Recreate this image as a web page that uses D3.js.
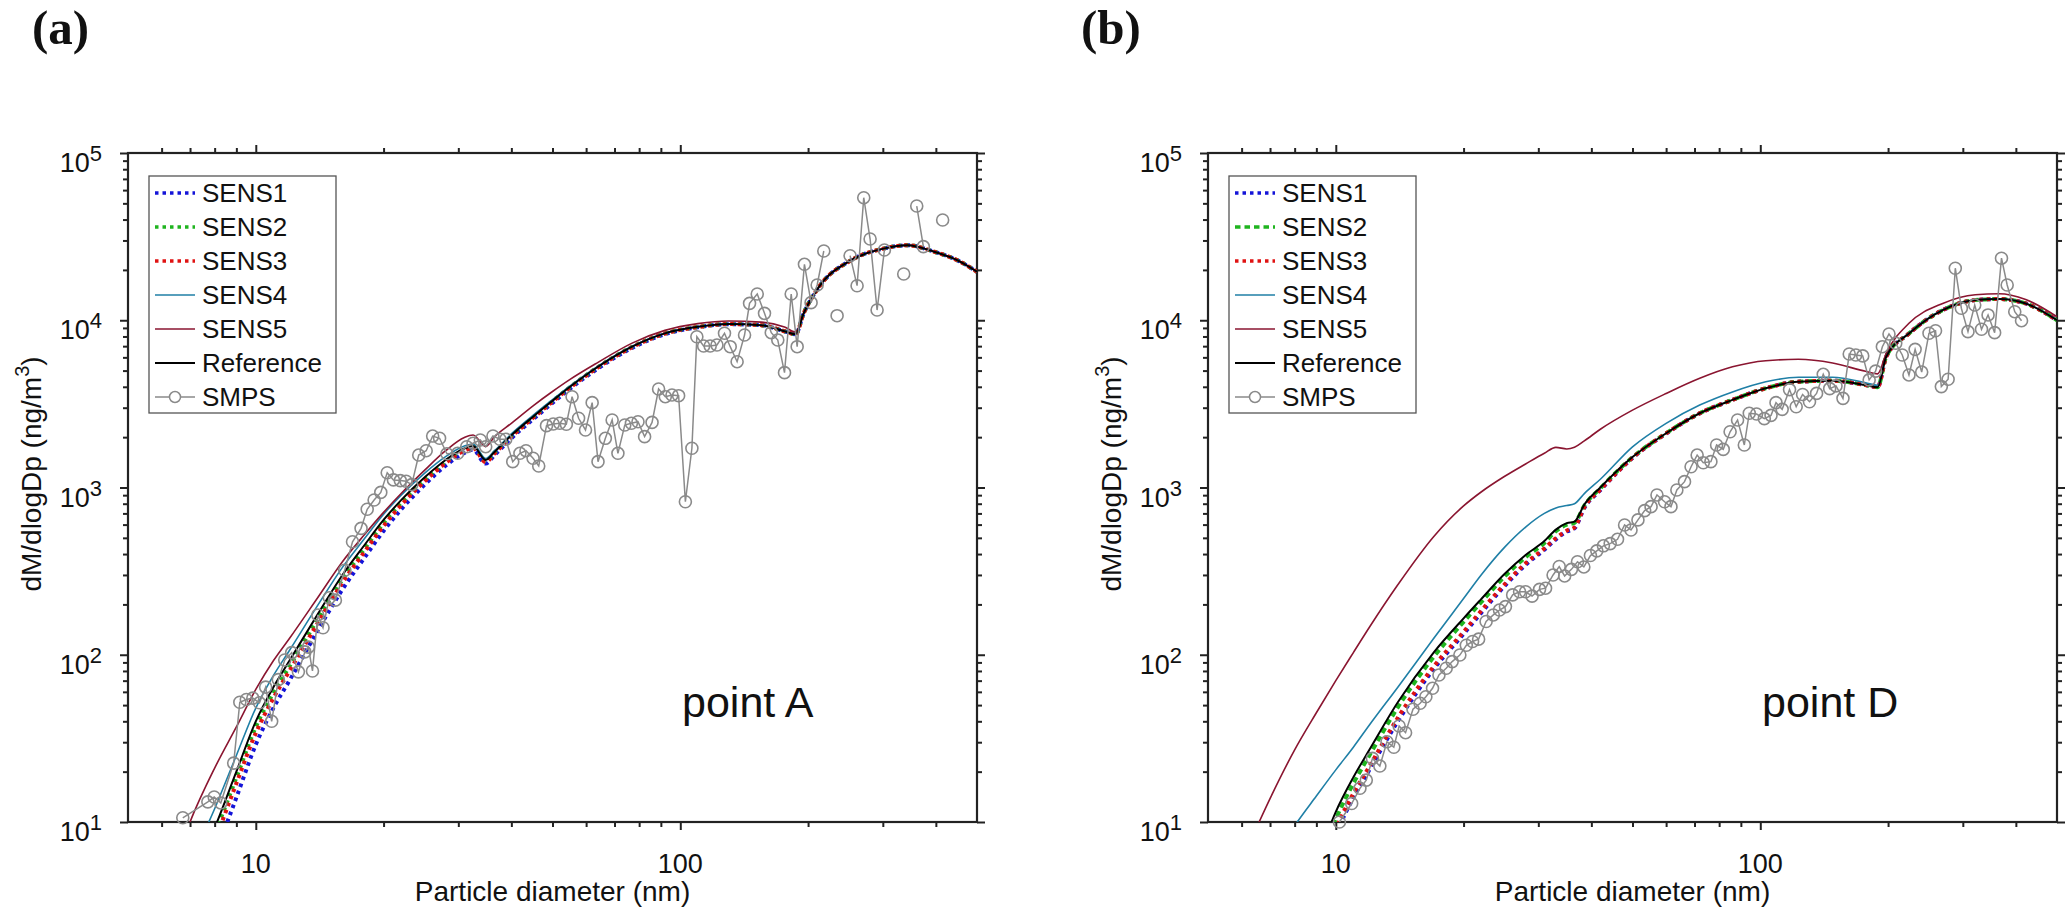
<!DOCTYPE html>
<meta charset="utf-8">
<html>
<head>
<title>mass size distribution - point A / point D</title>
<style>
body { margin: 0; background: #fff; }
svg text { font-family: "Liberation Sans", Arial, Helvetica, sans-serif; fill: #111; }
</style>
</head>
<body>
<svg class="chart" width="2067" height="915"></svg>

<script src="https://cdn.jsdelivr.net/npm/d3@7"></script>
<script>

// ---- panel (a): point A ----
const diamA = [6.5, 7, 8, 9, 10, 11, 12, 14, 16, 18, 20, 22, 25, 28, 31, 32.5, 34.8, 36.5, 40, 45,
  50, 55, 64, 77, 92, 110, 130, 155, 176, 187, 195, 211, 253, 303, 343, 396, 450, 500]
const sens1A = [1.6, 2.7, 6.3, 14, 29, 48, 70, 140, 246, 378, 550, 740, 1040, 1350, 1610, 1680, 1390, 1560, 1970, 2560,
  3200, 3900, 5150, 6830, 8250, 9080, 9470, 9340, 8600, 8250, 10900, 15500, 22900, 26900, 28100, 25700, 22800, 19500]
const sens2A = [2.3, 3.8, 8.5, 18.4, 37, 59, 85, 163, 282, 426, 612, 808, 1115, 1425, 1685, 1745, 1440, 1612, 2030, 2630,
  3280, 3980, 5250, 6930, 8340, 9120, 9500, 9350, 8600, 8250, 10900, 15500, 22900, 26900, 28100, 25700, 22800, 19500]
const sens3A = [2.0, 3.4, 7.7, 17, 34, 55, 80, 155, 270, 410, 590, 785, 1090, 1400, 1660, 1720, 1420, 1595, 2010, 2610,
  3260, 3960, 5230, 6910, 8320, 9110, 9490, 9350, 8600, 8250, 10900, 15500, 22900, 26900, 28100, 25700, 22800, 19500]
const sens4A = [3.5, 5.6, 12, 25, 48, 75, 106, 198, 333, 492, 692, 900, 1220, 1530, 1770, 1820, 1490, 1660, 2090, 2700,
  3350, 4050, 5320, 6990, 8370, 9140, 9510, 9360, 8610, 8260, 10900, 15500, 22900, 26900, 28100, 25700, 22800, 19500]
const sens5A = [6, 10, 21, 37, 62, 92, 125, 220, 360, 520, 710, 920, 1270, 1660, 1990, 2060, 1760, 2010, 2420, 3080,
  3750, 4430, 5600, 7300, 8700, 9550, 9900, 9750, 9100, 8500, 10950, 15550, 22950, 26950, 28150, 25750, 22850, 19550]
const refA = [2.5, 4.2, 9.2, 20, 40, 64, 92, 175, 300, 450, 640, 840, 1150, 1460, 1710, 1770, 1460, 1630, 2050, 2650,
  3300, 4000, 5270, 6950, 8350, 9130, 9500, 9350, 8600, 8250, 10900, 15500, 22900, 26900, 28100, 25700, 22800, 19500]

// SMPS measurements (null = no data, line breaks)
const smpsDiamA = [6.73, 7.71, 7.98, 8.27, 8.87, 9.17, 9.5, 9.84, 10.2, 10.55, 10.9, 11.3, 11.7, 12.15, 12.6, 13.05, 13.3, 13.6,
  14.0, 14.4, 14.9, 15.4, 16.2, 16.9, 17.7, 18.3, 19.0, 19.7, 20.4, 21.1, 21.9, 22.6, 23.3, 24.2, 25.2, 26.1, 27.1, 28.2,
  29.9, 31.4, 32.5, 33.8, 34.8, 36.2, 37.6, 38.8, 40.3, 41.9, 43.3, 45.0, 46.4, 48.4, 50.2, 52.0, 53.9, 55.6, 57.6, 59.8,
  62.0, 64.0, 66.6, 69.1, 71.3, 74.0, 76.7, 79.5, 82.4, 85.8, 88.9, 92.2, 95.6, 99.1, 102.8, 106.5, 109.4, 113.5, 117.6,
  122.0, 127.1, 131.1, 136.1, 141.7, 145.6, 151.8, 157.9, 163.8, 169.7, 176.0, 182.5, 188.5, 196.1, 203.3, 210.1, 217.8,
  null, 234.1, null, 251.2, 260.9, 270.5, 280.0, 290.8, 302.6, null, 336.0, null, 360.6, 373.8, null, 415.0]
const smpsA = [10.6, 13.2, 14.1, 13.0, 22.5, 52, 54, 55, 51.6, 64, 40, 71, 93, 103, 79, 104, 111, 80,
  173, 145, 219, 212, 320, 474, 570, 741, 842, 935, 1225, 1110, 1100, 1090, 1040, 1563, 1660, 2030, 1970, 1590,
  1601, 1754, 1838, 1923, 1754, 2032, 1942, 1942, 1427, 1601, 1660, 1495, 1345, 2343, 2397, 2420, 2388, 3491, 2593, 2207,
  3215, 1427, 1968, 2533, 1601, 2364, 2420, 2474, 2014, 2450, 3881, 3491, 3573, 3540, 822, 1716, 7973, 7015, 7015,
  7113, 8357, 6950, 5652, 8160, 12620, 14350, 11000, 8430, 7620, 4860, 14350, 6950, 21600, 12740, 16250, 25940,
  null, 10650, null, 24320, 16090, 54050, 30600, 11510, 26300, null, 18900, null, 48200, 27540, null, 39750]

// ---- panel (b): point D ----
const diamB = [6.5, 7, 8, 9, 10, 11, 12, 14, 17, 20, 22, 25, 28, 31, 33, 35, 36.5, 38.5, 42, 50,
  60, 72, 86, 103, 123, 148, 177, 189, 198, 224, 269, 321, 365, 422, 500]
const sens1B = [0.2, 0.4, 1.3, 3.5, 8.3, 14, 20.5, 40, 82, 133, 178, 258, 345, 425, 490, 545, 570, 755, 965, 1500,
  2100, 2775, 3340, 3920, 4290, 4345, 4100, 3980, 6050, 8320, 11500, 13200, 13400, 12600, 10000]
const sens2B = [0.5, 0.9, 2.4, 5.1, 10.4, 17, 25, 48.5, 97, 157, 206, 294, 383, 466, 548, 600, 615, 780, 990, 1515,
  2110, 2780, 3340, 3920, 4290, 4345, 4100, 3980, 6050, 8320, 11500, 13200, 13400, 12600, 10000]
const sens3B = [0.25, 0.45, 1.4, 3.8, 9, 14.8, 21.5, 42, 85, 137, 183, 264, 352, 432, 497, 552, 577, 762, 970, 1505,
  2105, 2778, 3340, 3920, 4290, 4345, 4100, 3980, 6050, 8320, 11500, 13200, 13400, 12600, 10000]
const sens4B = [4.0, 5.5, 9.5, 14.3, 20.5, 28, 38, 64, 125, 217, 300, 440, 580, 700, 755, 780, 800, 920, 1120, 1750,
  2420, 3110, 3730, 4290, 4560, 4560, 4230, 4080, 6100, 8380, 11560, 13250, 13450, 12650, 10050]
const sens5B = [9.2, 13.8, 27, 45, 70, 103, 146, 262, 508, 776, 940, 1167, 1383, 1603, 1738, 1700, 1740, 1900, 2230, 2900,
  3650, 4500, 5270, 5730, 5840, 5550, 4950, 4780, 6340, 9590, 12600, 14200, 14400, 13300, 10500]
const refB = [0.6, 1.1, 2.8, 5.8, 11.5, 18.5, 27, 52, 103, 165, 215, 305, 395, 478, 560, 612, 625, 790, 1000, 1520,
  2110, 2780, 3340, 3920, 4290, 4345, 4100, 3980, 6050, 8320, 11500, 13200, 13400, 12600, 10000]

const smpsDiamB = [10.2, 10.9, 11.4, 11.8, 12.2, 12.7, 13.2, 13.7, 14.1, 14.6, 15.2, 15.8, 16.3, 16.9, 17.5, 18.2, 18.8, 19.6,
  20.3, 21.0, 21.7, 22.6, 23.5, 24.3, 25.1, 26.1, 27.1, 28.0, 29.0, 30.2, 31.2, 32.5, 33.6, 34.6, 35.9, 37.1, 38.4, 39.8,
  41.2, 42.7, 44.3, 46.1, 47.9, 49.6, 51.5, 53.4, 55.3, 57.1, 59.5, 61.6, 63.6, 66.3, 68.7, 71.0, 73.4, 76.5, 78.9, 81.8,
  84.9, 88.4, 91.7, 94.2, 98.0, 102.2, 106.0, 108.9, 112.6, 117.2, 121.5, 125.8, 130.6, 135.7, 140.7, 145.7, 150.8, 156.6,
  162.0, 167.9, 174.3, 180.5, 186.9, 193.9, 201.0, 208.5, 216.0, 224.0, 231.6, 240.0, 249.7, 258.7, 267.0, 277.0, 288.0,
  297.6, 308.5, 320.0, 332.0, 344.0, 356.5, 370.0, 381.6, 397.6, 412.5]
const smpsB = [10, 12.9, 15.9, 17.8, 24, 21.6, 30.2, 28, 37.5, 34.2, 47.2, 51.3, 56.1, 63, 75.7, 83, 91, 99.6,
  114, 120, 124, 158, 173, 185, 194, 228, 238, 238, 224, 246, 250, 300, 337, 296, 324, 360, 335, 392,
  418, 448, 462, 490, 597, 557, 640, 727, 768, 902, 822, 768, 966, 1084, 1331, 1563, 1406, 1427, 1795, 1690,
  2153, 2533, 1795, 2780, 2750, 2580, 2700, 3216, 2932, 3850, 3041, 3600, 3258, 3653, 4750, 3900, 4050, 3413,
  6280, 6200, 6120, 4400, 4966, 6950, 8280, 7280, 6200, 4710, 6700, 4900, 8360, 8660, 4010, 4440, 20470,
  11800, 8550, 12330, 8840, 10760, 8430, 23500, 16250, 11250, 9940]

// axes
const xDomain = [5, 500]
const yDomain = [10, 1e5]
const xMajor = [10, 100]
const xMinor = [6, 7, 8, 9, 20, 30, 40, 50, 60, 70, 80, 90, 200, 300, 400]
const yMajor = [10, 100, 1000, 10000, 100000]
const yMinor = [10, 100, 1000, 10000].flatMap(b => [2, 3, 4, 5, 6, 7, 8, 9].map(m => b * m))
const legendNames = ["SENS1", "SENS2", "SENS3", "SENS4", "SENS5", "Reference", "SMPS"]

// ---- layout / styles ----
const plotW = 849, plotTop = 153, plotBottom = 822

const styleA = [
  {key:"sens1", color:"#1414d8", width:4, dash:"3.5,4"},
  {key:"sens2", color:"#1fb41f", width:4, dash:"3.5,4"},
  {key:"sens3", color:"#e01212", width:4, dash:"3.5,4"},
  {key:"sens4", color:"#1f7fa6", width:1.6, dash:null},
  {key:"sens5", color:"#8a1530", width:1.6, dash:null},
  {key:"ref",   color:"#000",    width:2,   dash:null}
]
const styleB = styleA.map(s => s.key == "sens2" ? Object.assign({}, s, {dash:"5.5,4"}) : s)

const panels = [
  {id:"a", tag:"(a)", tagX:32, note:"point A", x0:128, styles:styleA, diam:diamA,
   series:{sens1:sens1A, sens2:sens2A, sens3:sens3A, sens4:sens4A, sens5:sens5A, ref:refA},
   smpsD:smpsDiamA, smpsV:smpsA},
  {id:"b", tag:"(b)", tagX:1081, note:"point D", x0:1208, styles:styleB, diam:diamB,
   series:{sens1:sens1B, sens2:sens2B, sens3:sens3B, sens4:sens4B, sens5:sens5B, ref:refB},
   smpsD:smpsDiamB, smpsV:smpsB}
]

const svg = d3.select("svg.chart")
svg.append("rect").attr("width", 2067).attr("height", 915).attr("fill", "#fff")

const smpsColor = "#8a8a8a"

function drawPanel(p) {
  const x = d3.scaleLog().domain(xDomain).range([p.x0, p.x0 + plotW])
  const y = d3.scaleLog().domain(yDomain).range([plotBottom, plotTop])
  const g = svg.append("g").attr("class", "panel-" + p.id)

  g.append("clipPath").attr("id", "clip-" + p.id).append("rect")
    .attr("x", p.x0).attr("y", plotTop)
    .attr("width", plotW).attr("height", plotBottom - plotTop)

  // ticks on all four sides, pointing out
  const sides = [
    [d3.axisBottom(x), "translate(0," + plotBottom + ")", xMajor, xMinor],
    [d3.axisTop(x), "translate(0," + plotTop + ")", xMajor, xMinor],
    [d3.axisLeft(y), "translate(" + p.x0 + ",0)", yMajor, yMinor],
    [d3.axisRight(y), "translate(" + (p.x0 + plotW) + ",0)", yMajor, yMinor]
  ]
  sides.forEach(([ax, tr, major, minor]) => {
    g.append("g").attr("transform", tr)
      .call(ax.tickValues(minor).tickSize(5).tickSizeOuter(0).tickFormat(""))
    g.append("g").attr("transform", tr)
      .call(ax.tickValues(major).tickSize(8).tickSizeOuter(0).tickFormat(""))
  })
  g.selectAll(".domain").remove()
  g.selectAll(".tick line").attr("stroke", "#222").attr("stroke-width", 2)

  g.append("rect")
    .attr("x", p.x0).attr("y", plotTop)
    .attr("width", plotW).attr("height", plotBottom - plotTop)
    .attr("fill", "none").attr("stroke", "#222").attr("stroke-width", 2.2)

  // tick labels
  g.selectAll("text.xtick").data(xMajor).enter().append("text")
    .attr("class", "xtick")
    .attr("x", d => x(d)).attr("y", 873)
    .attr("text-anchor", "middle").attr("font-size", 27)
    .text(d => d3.format("d")(d))

  const yl = g.selectAll("text.ytick").data(yMajor).enter().append("text")
    .attr("class", "ytick")
    .attr("x", p.x0 - 26).attr("y", d => y(d) + 19)
    .attr("text-anchor", "end").attr("font-size", 27)
  yl.append("tspan").text("10")
  yl.append("tspan").attr("font-size", 22).attr("dy", -11).text(d => Math.round(Math.log10(d)))

  // axis titles
  g.append("text")
    .attr("x", p.x0 + plotW / 2).attr("y", 901)
    .attr("text-anchor", "middle").attr("font-size", 28)
    .text("Particle diameter (nm)")

  const yt = g.append("text")
    .attr("transform", "translate(" + (p.x0 - 87) + ",474) rotate(-90)")
    .attr("text-anchor", "middle").attr("font-size", 28)
  yt.append("tspan").text("dM/dlogDp (ng/m")
  yt.append("tspan").attr("font-size", 20).attr("dy", -12).text("3")
  yt.append("tspan").attr("dy", 12).text(")")

  // model curves
  const line = d3.line()
    .x(d => x(d[0])).y(d => y(d[1]))
    .curve(d3.curveMonotoneX)

  const curves = g.append("g").attr("clip-path", "url(#clip-" + p.id + ")")
  p.styles.forEach(s => {
    const pts = p.diam.map((d, i) => [d, p.series[s.key][i]])
    curves.append("path")
      .attr("d", line(pts))
      .attr("fill", "none")
      .attr("stroke", s.color)
      .attr("stroke-width", s.width)
      .attr("stroke-dasharray", s.dash)
  })

  // SMPS
  const smps = p.smpsD.map((d, i) => [d, p.smpsV[i]])
  const smpsLine = d3.line()
    .defined(d => d[0] != null && d[1] != null)
    .x(d => x(d[0])).y(d => y(d[1]))
  curves.append("path")
    .attr("d", smpsLine(smps))
    .attr("fill", "none").attr("stroke", smpsColor).attr("stroke-width", 1.5)

  g.append("g").selectAll("circle")
    .data(smps.filter(d => d[0] != null))
    .enter().append("circle")
    .attr("cx", d => x(d[0])).attr("cy", d => y(d[1])).attr("r", 6)
    .attr("fill", "none").attr("stroke", smpsColor).attr("stroke-width", 1.6)

  // legend
  const lg = g.append("g").attr("transform", "translate(" + (p.x0 + 21) + ",176)")
  lg.append("rect").attr("width", 187).attr("height", 237)
    .attr("fill", "#fff").attr("stroke", "#555").attr("stroke-width", 1.3)

  const rows = lg.selectAll("g.row").data(legendNames).enter().append("g")
    .attr("class", "row")
    .attr("transform", (d, i) => "translate(0," + (17 + i * 34) + ")")

  rows.each(function(name, i) {
    const r = d3.select(this)
    const s = p.styles[i]
    r.append("line").attr("x1", 6).attr("x2", 46)
      .attr("stroke", s ? s.color : smpsColor)
      .attr("stroke-width", s ? Math.min(s.width, 3.5) : 1.5)
      .attr("stroke-dasharray", s ? s.dash : null)
    if (!s) {
      r.append("circle").attr("cx", 26).attr("r", 5.5)
        .attr("fill", "#fff").attr("stroke", smpsColor).attr("stroke-width", 1.5)
    }
    r.append("text").attr("x", 53).attr("dy", "0.35em")
      .attr("font-size", 26).text(name)
  })

  // annotations
  g.append("text").attr("x", p.x0 + 554).attr("y", 717)
    .attr("font-size", 43).text(p.note)

  svg.append("text").attr("x", p.tagX).attr("y", 44)
    .attr("font-size", 49).attr("font-weight", "bold")
    .style("font-family", "'Liberation Serif', 'Times New Roman', serif")
    .text(p.tag)
}

panels.forEach(drawPanel)
</script>
</body>
</html>
